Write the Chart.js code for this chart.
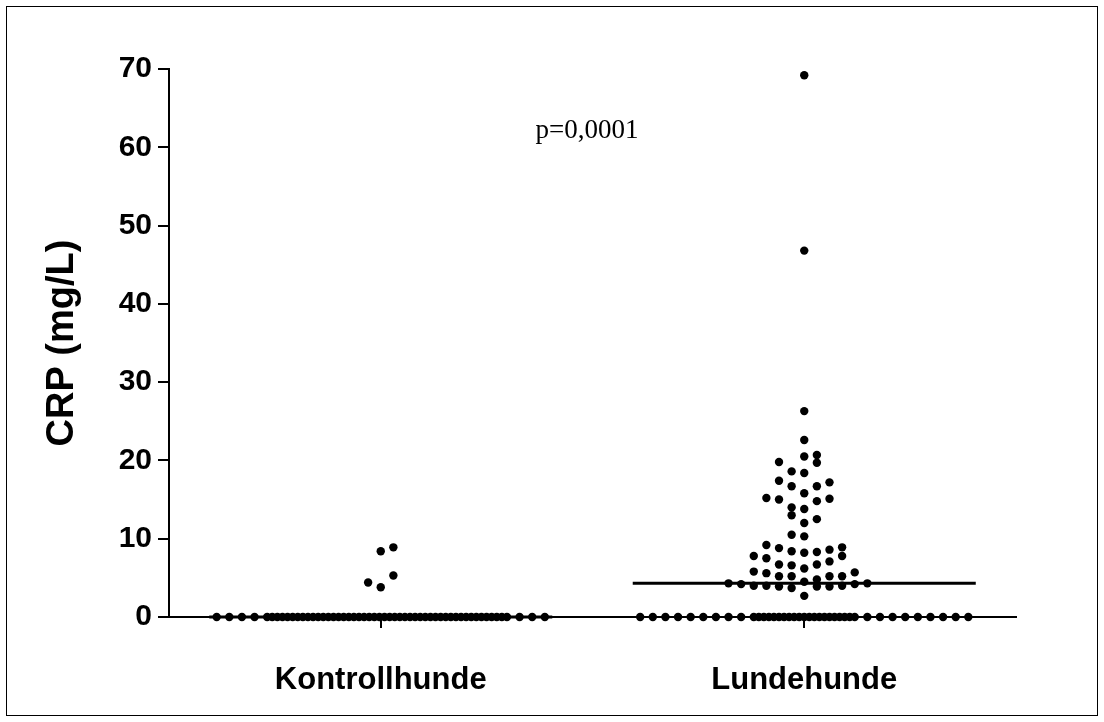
<!DOCTYPE html>
<html>
<head>
<meta charset="utf-8">
<title>CRP Kontrollhunde / Lundehunde</title>
<script src="https://cdn.jsdelivr.net/npm/chart.js@4/dist/chart.umd.min.js"></script>
<style>
  html, body { margin: 0; padding: 0; background: #fff; }
  #wrap { width: 1104px; height: 722px; position: relative; }
</style>
</head>
<body>
<div id="wrap"><canvas id="crpChart"></canvas></div>
<script>
// CRP (mg/L) per dog
const groups = ['Kontrollhunde', 'Lundehunde'];

const kontrollValues = [
  0, 0, 0, 0, 0, 0, 0, 0, 0, 0, 0, 0, 0, 0, 0, 0, 0, 0, 0, 0,
  0, 0, 0, 0, 0, 0, 0, 0, 0, 0, 0, 0, 0, 0, 0, 0, 0, 0, 0, 0,
  0, 0, 0, 0, 0, 0, 0, 0, 0, 0, 0, 0, 0, 0, 0,
  3.8, 4.4, 5.3, 8.4, 8.9
];

const lundeValues = [
  0, 0, 0, 0, 0, 0, 0, 0, 0, 0, 0, 0, 0, 0, 0, 0, 0, 0, 0, 0,
  0, 0, 0, 0, 0, 0, 0, 0, 0, 0, 0, 0, 0, 0, 0, 0, 0, 0, 0,
  2.7, 3.7, 3.9, 3.9, 3.9, 4.0, 4.0, 4.0, 4.2, 4.2, 4.3, 4.3, 4.5,
  4.8, 5.2, 5.2, 5.2, 5.2, 5.6, 5.7, 5.8, 6.2, 6.6, 6.7, 6.7, 7.1,
  7.5, 7.8, 7.8, 8.2, 8.3, 8.4, 8.6, 8.8, 8.9, 9.2,
  10.3, 10.5, 12.0, 12.5, 13.0, 13.8, 14.0, 14.8, 15.0, 15.1, 15.2, 15.8,
  16.7, 16.7, 17.2, 17.4, 18.4, 18.6, 19.7, 19.8, 20.5, 20.7, 22.6, 26.3,
  46.8, 69.2
];

const yTicks = [0, 10, 20, 30, 40, 50, 60, 70];
const pNote = 'p=0,0001';

// dot layout
const SLOT = 0.0298;     // horizontal pitch of the dots (x units)
const MAX_SLOTS = 27;    // dots that fit side by side in a column
const DENSE = 2.5;       // squeeze factor when a row overflows
const BIN = 1.65;        // values closer than this share a row (mg/L)
const MEDIAN_HALF = 0.405;

// one row of identical values, squeezed in the middle if too long
function rowOffsets(n) {
  const half = (MAX_SLOTS - 1) / 2;
  if (n <= MAX_SLOTS) {
    return Array.from({ length: n }, (_, i) => (i - (n - 1) / 2) * SLOT);
  }
  const outer = Math.max(0, (DENSE * (MAX_SLOTS - 1) - (n - 1)) / (2 * (DENSE - 1)));
  const left = Math.ceil(outer), right = Math.floor(outer);
  const inner = n - left - right;
  const from = left, to = MAX_SLOTS - 1 - right;
  const out = [];
  for (let i = 0; i < left; i++) out.push((i - half) * SLOT);
  for (let i = 0; i < inner; i++) out.push((from + i * (to - from) / (inner - 1) - half) * SLOT);
  for (let i = right - 1; i >= 0; i--) out.push((MAX_SLOTS - 1 - i - half) * SLOT);
  return out;
}

function swarm(values, center) {
  const base = Math.min(...values);
  const floorRow = values.filter(v => v === base);
  const rest = values.filter(v => v !== base).sort((a, b) => a - b);
  const pts = rowOffsets(floorRow.length).map(dx => ({ x: center + dx, y: base }));

  // greedy rows: a row starts at its lowest value and takes everything within BIN
  const rows = [];
  rest.forEach(v => {
    const last = rows[rows.length - 1];
    if (last && v - last[0] < BIN) last.push(v);
    else rows.push([v]);
  });

  // first dot in the middle, then out to alternating sides;
  // the side taken first flips from row to row
  rows.forEach((row, r) => {
    const first = r % 2 === 0 ? -1 : 1;
    row.forEach((v, k) => {
      const step = Math.ceil(k / 2);
      const slot = k === 0 ? 0 : (k % 2 ? first : -first) * step;
      pts.push({ x: center + slot * SLOT, y: v });
    });
  });
  return pts;
}

function median(values) {
  const s = [...values].sort((a, b) => a - b);
  const m = Math.floor(s.length / 2);
  return s.length % 2 ? s[m] : (s[m - 1] + s[m]) / 2;
}

const series = [kontrollValues, lundeValues];

const dotSets = series.map((vals, i) => ({
  type: 'scatter',
  label: groups[i],
  data: swarm(vals, i + 1),
  backgroundColor: '#000',
  borderColor: '#000',
  pointRadius: 4.2,
  pointHoverRadius: 4.2,
  borderWidth: 0,
  clip: false
}));

const medianSets = series.map((vals, i) => {
  const m = median(vals);
  return {
    type: 'line',
    label: groups[i] + ' median',
    data: [{ x: i + 1 - MEDIAN_HALF, y: m }, { x: i + 1 + MEDIAN_HALF, y: m }],
    borderColor: '#000',
    borderWidth: 3,
    pointRadius: 0,
    clip: false
  };
});

const frameAndNote = {
  id: 'frameAndNote',
  afterDraw(chart) {
    const { ctx } = chart;
    ctx.save();
    ctx.strokeStyle = '#000';
    ctx.lineWidth = 1;
    ctx.strokeRect(6.5, 6.5, chart.width - 13, chart.height - 13);
    const x = chart.scales.x.getPixelForValue(1.487);
    const y = chart.scales.y.getPixelForValue(62.1);
    ctx.fillStyle = '#000';
    ctx.font = '27px "Liberation Serif", "Times New Roman", serif';
    ctx.textAlign = 'center';
    ctx.textBaseline = 'middle';
    ctx.fillText(pNote, x, y);
    ctx.restore();
  }
};

const bold = size => ({ family: '"Liberation Sans", Arial, sans-serif', size, weight: 'bold' });

new Chart(document.getElementById('crpChart'), {
  data: { datasets: [...dotSets, ...medianSets] },
  plugins: [frameAndNote],
  options: {
    responsive: true,
    maintainAspectRatio: false,
    animation: false,
    layout: { padding: { left: 0, top: 69, right: 88, bottom: 0 } },
    plugins: { legend: { display: false }, tooltip: { enabled: false } },
    scales: {
      x: {
        type: 'linear',
        min: 0.5,
        max: 2.5,
        afterBuildTicks: s => { s.ticks = groups.map((g, i) => ({ value: i + 1 })); },
        afterFit: s => { s.height = 105; },
        ticks: {
          callback: (v, i) => groups[i],
          font: bold(31),
          color: '#000',
          padding: 34,
          maxRotation: 0
        },
        grid: { drawOnChartArea: false, drawTicks: true, tickLength: 11, color: '#000', lineWidth: 2 },
        border: { display: true, color: '#000', width: 2 }
      },
      y: {
        min: 0,
        max: 70,
        afterBuildTicks: s => { s.ticks = yTicks.map(v => ({ value: v })); },
        afterFit: s => { s.width = 169; },
        ticks: { font: bold(30), color: '#000', padding: 6 },
        grid: { drawOnChartArea: false, drawTicks: true, tickLength: 11, color: '#000', lineWidth: 2 },
        border: { display: true, color: '#000', width: 2 },
        title: { display: true, text: 'CRP (mg/L)', font: bold(38), color: '#000', padding: 40 }
      }
    }
  }
});
</script>
</body>
</html>
